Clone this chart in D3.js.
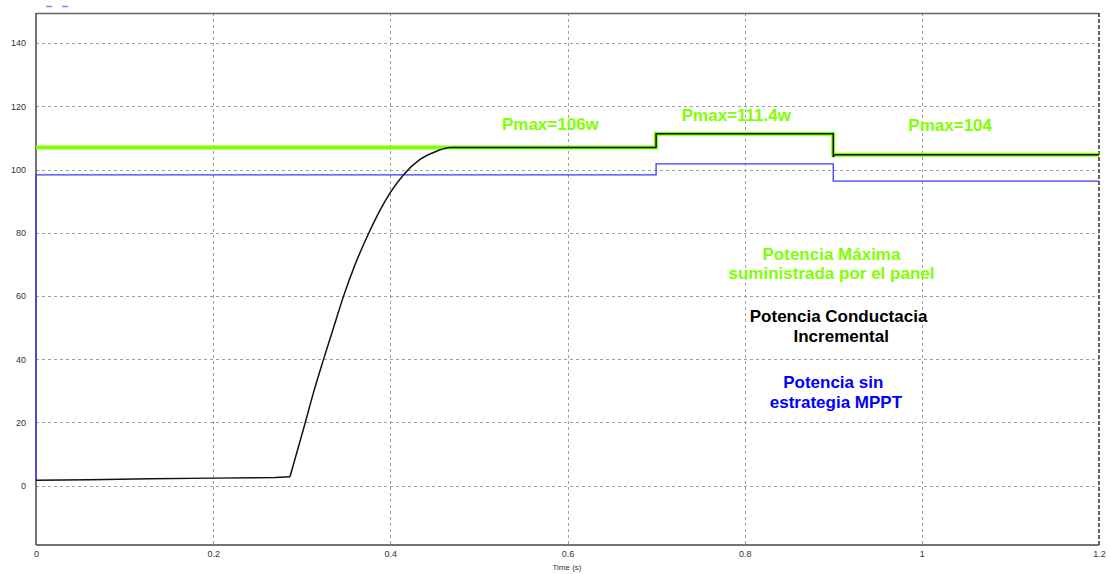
<!DOCTYPE html>
<html>
<head>
<meta charset="utf-8">
<script src="https://cdn.jsdelivr.net/npm/d3@7"></script>
<style>
html,body{margin:0;padding:0;background:#fff;}
svg{display:block;font-family:"Liberation Sans",Arial,sans-serif;}
</style>
</head>
<body>
<svg id="chart" width="1110" height="574"></svg>
<script>
// ---- data ----
const xTicks = [0, 0.2, 0.4, 0.6, 0.8, 1, 1.2];
const xTickLabels = ["0", "0.2", "0.4", "0.6", "0.8", "1", "1.2"];
const yTicks = [0, 20, 40, 60, 80, 100, 120, 140];
const yTickLabels = ["0", "20", "40", "60", "80", "100", "120", "140"];

const pmaxT = [0, 0.7, 0.7, 0.9, 0.9, 1.2];
const pmaxP = [107.0, 107.0, 111.3, 111.3, 104.7, 104.7];

const blueT = [0, 0, 0.7, 0.7, 0.9, 0.9, 1.2];
const blueP = [1.7, 98.3, 98.3, 101.8, 101.8, 96.3, 96.3];

// incremental conductance: flat start, smooth rise, then tracking steps
const incFlatT = [0, 0.06, 0.13, 0.2, 0.27, 0.2867];
const incFlatP = [1.7, 1.9, 2.2, 2.4, 2.6, 2.85];
const incRiseT = [0.2867, 0.3037, 0.313, 0.3244, 0.3357, 0.347, 0.360, 0.3752, 0.388, 0.3997, 0.4147, 0.4335, 0.4523, 0.4674, 0.48];
const incRiseP = [2.85, 19.7, 29.2, 39.8, 49.8, 59.8, 69.8, 79.6, 86.9, 92.6, 98.3, 103.2, 105.8, 107.0, 107.0];
const incStepT = [0.48, 0.7, 0.7, 0.9, 0.9, 0.902, 1.2];
const incStepP = [107.0, 107.0, 111.3, 111.3, 104.0, 104.7, 104.7];

const labels = [
  {t: 0.526, p: 112.6, text: "Pmax=106w"},
  {t: 0.729, p: 115.5, text: "Pmax=111.4w"},
  {t: 0.9848, p: 112.3, text: "Pmax=104"}
];
const notes = [
  {t: 0.898, p: 71.4, text: "Potencia Máxima", color: "#80ff00"},
  {t: 0.898, p: 65.4, text: "suministrada por el panel", color: "#80ff00"},
  {t: 0.906, p: 51.9, text: "Potencia Conductacia", color: "#000000"},
  {t: 0.909, p: 45.6, text: "Incremental", color: "#000000"},
  {t: 0.900, p: 31.0, text: "Potencia sin", color: "#0000ff"},
  {t: 0.903, p: 24.7, text: "estrategia MPPT", color: "#0000ff"}
];

// ---- layout ----
const svg = d3.select("#chart");
const L = 36, R = 1099, T = 13, B = 545;
const x = d3.scaleLinear().domain([0, 1.2]).range([L, R]);
const y = d3.scaleLinear().domain([-18.75, 149.5]).range([B, T]);

// grid
const g = svg.append("g");
g.selectAll(".vg").data(xTicks.slice(1, -1)).enter().append("line")
  .attr("x1", d => Math.round(x(d)) + 0.5).attr("x2", d => Math.round(x(d)) + 0.5).attr("y1", T).attr("y2", B)
  .attr("stroke", "#a0a0a0").attr("stroke-width", 1).attr("stroke-dasharray", "3,3");
g.selectAll(".hg").data(yTicks).enter().append("line")
  .attr("x1", L).attr("x2", R).attr("y1", d => Math.round(y(d)) + 0.5).attr("y2", d => Math.round(y(d)) + 0.5)
  .attr("stroke", "#a0a0a0").attr("stroke-width", 1).attr("stroke-dasharray", "3,3");

// frame
svg.append("line").attr("x1", L).attr("x2", R).attr("y1", T + 0.5).attr("y2", T + 0.5).attr("stroke", "#666").attr("stroke-width", 1.5);
svg.append("line").attr("x1", L).attr("x2", R).attr("y1", B).attr("y2", B).attr("stroke", "#444").attr("stroke-width", 1.5);
svg.append("line").attr("x1", L).attr("x2", L).attr("y1", T).attr("y2", B).attr("stroke", "#444").attr("stroke-width", 1.5);
svg.append("line").attr("x1", R).attr("x2", R).attr("y1", T).attr("y2", B).attr("stroke", "#333").attr("stroke-width", 1.5).attr("stroke-dasharray", "4,2");

// axes labels
const xAxis = d3.axisBottom(x).tickValues(xTicks).tickFormat((d, i) => xTickLabels[i]).tickSize(0).tickPadding(6);
const xa = svg.append("g").attr("transform", `translate(0,${B})`).call(xAxis);
xa.select(".domain").remove();
xa.selectAll("text").attr("font-size", 9).attr("fill", "#333").attr("font-family", "Liberation Sans, Arial, sans-serif");

const yAxis = d3.axisLeft(y).tickValues(yTicks).tickFormat((d, i) => yTickLabels[i]).tickSize(0).tickPadding(10);
const ya = svg.append("g").attr("transform", `translate(${L},0)`).call(yAxis);
ya.select(".domain").remove();
ya.selectAll("text").attr("font-size", 9).attr("fill", "#333").attr("font-family", "Liberation Sans, Arial, sans-serif");

svg.append("text").attr("x", 567).attr("y", 570).attr("text-anchor", "middle")
  .attr("font-size", 8).attr("fill", "#333").text("Time (s)");

// legend marks top-left
svg.append("line").attr("x1", 46).attr("x2", 52).attr("y1", 6.5).attr("y2", 6.5).attr("stroke", "#7f7fff").attr("stroke-width", 1.5);
svg.append("line").attr("x1", 62).attr("x2", 68).attr("y1", 6.5).attr("y2", 6.5).attr("stroke", "#7f7fff").attr("stroke-width", 1.5);

// series
const line = d3.line().x(d => x(d[0])).y(d => y(d[1]));
const smooth = d3.line().x(d => x(d[0])).y(d => y(d[1])).curve(d3.curveMonotoneX);
const zip = (a, b) => a.map((v, i) => [v, b[i]]);

svg.append("path").datum(zip(pmaxT, pmaxP)).attr("d", line)
  .attr("fill", "none").attr("stroke", "#80ff00").attr("stroke-width", 4);
svg.append("path").datum(zip(blueT, blueP)).attr("d", line)
  .attr("fill", "none").attr("stroke", "#3a3aff").attr("stroke-width", 1.3);

const incStyle = p => p.attr("fill", "none").attr("stroke", "#111").attr("stroke-width", 1.5).attr("stroke-linejoin", "round");
svg.append("path").datum(zip(incFlatT, incFlatP)).attr("d", line).call(incStyle);
svg.append("path").datum(zip(incRiseT, incRiseP)).attr("d", smooth).call(incStyle);
svg.append("path").datum(zip(incStepT, incStepP)).attr("d", line).call(incStyle);

// labels
svg.selectAll(".pl").data(labels).enter().append("text")
  .attr("x", d => x(d.t)).attr("y", d => y(d.p))
  .attr("text-anchor", "start").attr("font-size", 17).attr("font-weight", "bold")
  .attr("fill", "#80ff00").text(d => d.text);

svg.selectAll(".nt").data(notes).enter().append("text")
  .attr("x", d => x(d.t)).attr("y", d => y(d.p))
  .attr("text-anchor", "middle").attr("font-size", 17).attr("font-weight", "bold")
  .attr("fill", d => d.color).text(d => d.text);
</script>
</body>
</html>
